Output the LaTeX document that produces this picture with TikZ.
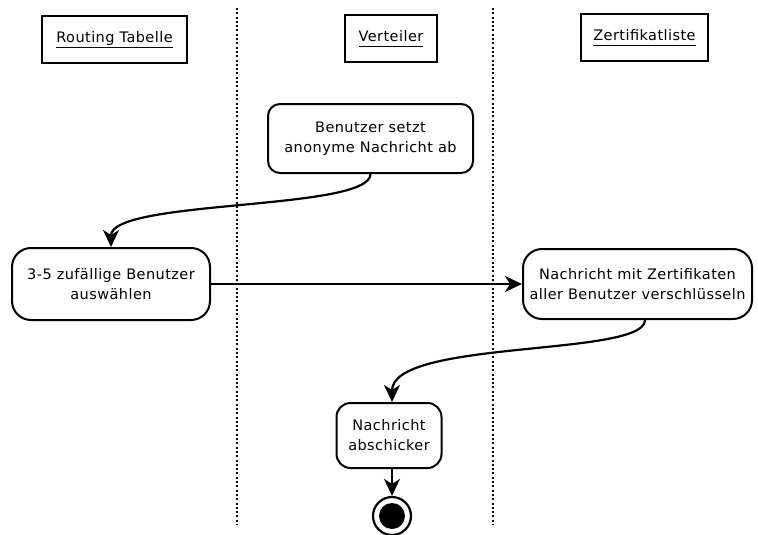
\documentclass[tikz,border=0pt]{standalone}
\usepackage{fontspec}
\setmainfont{DejaVu Sans}[LetterSpace=3]
\usetikzlibrary{arrows.meta}
% underlined lane title, rule kept below descenders
\newcommand{\hdul}[1]{\underline{#1\vphantom{gy}}}
\begin{document}
\begin{tikzpicture}[x=1pt,y=-1pt,
  every node/.style={font=\fontsize{14.5}{20}\selectfont, inner sep=0pt, align=center},
  lanehead/.style={draw, line width=2.2pt, minimum height=47pt},
  activity/.style={draw, line width=2pt},
  flow/.style={line width=2.2pt, -{Stealth[length=17pt,width=16pt,inset=5pt]}},
  lane/.style={line width=1.5pt, dash pattern=on 2pt off 2.3pt}]
\useasboundingbox (0,0) rectangle (758,535);

% swimlane separators
\draw[lane] (237,8) -- (237,525);
\draw[lane] (493,8) -- (493,525);

% swimlane titles
\node[lanehead, minimum width=145pt] (hRT) at (114.5,39.5) {\hdul{Routing Tabelle}};
\node[lanehead, minimum width=92pt]  (hV)  at (391,38.5)   {\hdul{Verteiler}};
\node[lanehead, minimum width=127pt] (hZ)  at (644.5,37.5) {\hdul{Zertifikatliste}};

% activities
\node[activity, rounded corners=12pt, minimum width=205pt, minimum height=69pt]
  (a1) at (370.5,138.5) {Benutzer setzt\\anonyme Nachricht ab};
\node[activity, rounded corners=19pt, minimum width=198pt, minimum height=72pt]
  (a2) at (111,284) {3-5 zufällige Benutzer\\auswählen};
\node[activity, rounded corners=19pt, minimum width=229pt, minimum height=70pt]
  (a3) at (637.5,284) {Nachricht mit Zertifikaten\\aller Benutzer verschlüsseln};
\node[activity, rounded corners=14pt, minimum width=105pt, minimum height=65pt]
  (a4) at (389,435.5) {Nachricht\\abschicker};

% final node
\node[draw, circle, line width=2.2pt, minimum size=38pt] (fin) at (392,516) {};
\fill (fin.center) circle (13pt);

% control flow
\draw[flow] (a1.south) .. controls +(0,37) and +(0,-48) .. (a2.north);
\draw[flow] (a2.east) -- (a3.west);
\draw[flow] ([xshift=7.5pt]a3.south) .. controls +(0,37) and +(0,-63) .. ([xshift=3pt]a4.north);
\draw[flow] (fin.north |- a4.south) -- (fin.north);
\end{tikzpicture}
\end{document}
